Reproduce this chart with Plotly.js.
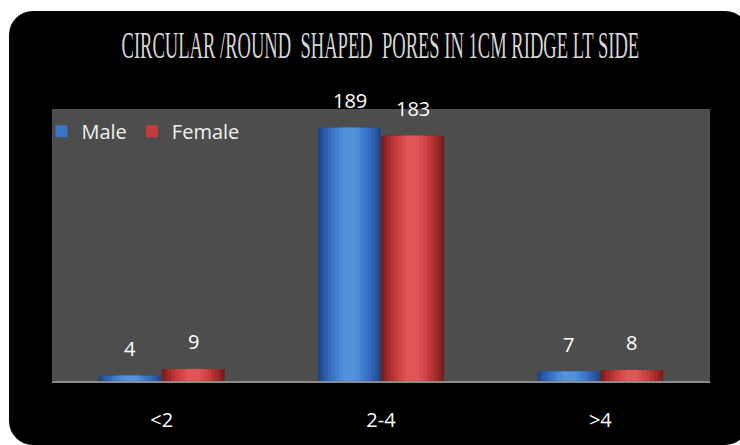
<!DOCTYPE html>
<html>
<head>
<meta charset="utf-8">
<script src="https://cdn.plot.ly/plotly-3.0.1.min.js"></script>
<style>
  html, body { margin: 0; padding: 0; background: #ffffff; width: 740px; height: 445px; overflow: hidden; }
  #frame { position: absolute; left: 9px; top: 11px; width: 740px; height: 434px; background: #000000; border-radius: 24px; }
  #chart { position: absolute; left: 0; top: 0; width: 740px; height: 445px; }
</style>
</head>
<body>
<div id="frame"></div>
<div id="chart"></div>
<script>
// ---- data ----
const categories = ["<2", "2-4", ">4"];
const maleValues = [4, 189, 7];
const femaleValues = [9, 183, 8];
const seriesNames = ["Male", "Female"];
const chartTitle = "CIRCULAR /ROUND  SHAPED  PORES IN 1CM RIDGE LT SIDE";

// ---- styling ----
const barW = 0.287;
const seriesData = [maleValues, femaleValues];
const seriesOffsets = [-barW, 0];
// layered shades: [width fraction, color]
const shades = [
  [["1.00", "#1f4680"], ["0.92", "#25519a"], ["0.82", "#2c5eab"], ["0.70", "#336abb"], ["0.58", "#3a75c7"], ["0.46", "#4280d0"], ["0.34", "#4a89d7"], ["0.22", "#5391db"]],
  [["1.00", "#761d1d"], ["0.92", "#8c2424"], ["0.82", "#a02b2b"], ["0.70", "#b43333"], ["0.58", "#c43b3b"], ["0.46", "#d14444"], ["0.34", "#da4c4c"], ["0.22", "#e05555"]]
];
const hiCenter = 0.5;
const legendLayer = 4;

const traces = [];
seriesData.forEach((vals, s) => {
  shades[s].forEach((sh, k) => {
    const f = parseFloat(sh[0]);
    traces.push({
      type: "bar",
      x: categories,
      y: vals,
      name: seriesNames[s],
      legendgroup: seriesNames[s],
      showlegend: k === legendLayer,
      width: barW * f,
      offset: seriesOffsets[s] + (k === 0 ? 0 : barW * (hiCenter - f / 2)),
      marker: { color: sh[1], line: { width: 0 } },
      hoverinfo: "skip"
    });
  });
});

const annotations = [];
seriesData.forEach((vals, s) => {
  vals.forEach((v, i) => {
    annotations.push({
      x: categories[i], y: v, xref: "x", yref: "y",
      text: String(v), showarrow: false,
      xshift: (s === 0 ? -1 : 1) * 31.5,
      yanchor: "bottom", yshift: 12,
      font: { family: "Open Sans, sans-serif", size: 20, color: "#ffffff" }
    });
  });
});

const layout = {
  width: 740, height: 445,
  paper_bgcolor: "rgba(0,0,0,0)",
  plot_bgcolor: "#4d4d4d",
  margin: { l: 52, r: 30, t: 109, b: 64 },
  barmode: "overlay",
  title: {
    text: chartTitle,
    font: { family: "Liberation Serif, serif", size: 38, color: "#d6d6d6" },
    x: 0.514, xanchor: "center", xref: "container",
    y: 1 - 45 / 445, yanchor: "middle", yref: "container"
  },
  xaxis: {
    type: "category",
    range: [-0.5, 2.5],
    showgrid: false, zeroline: false,
    showline: true, linecolor: "#8a8a8a", linewidth: 2,
    ticks: "", ticklabelstandoff: 20,
    tickfont: { family: "Open Sans, sans-serif", size: 20, color: "#ffffff" },
    fixedrange: true
  },
  yaxis: {
    range: [0, 203],
    showgrid: false, zeroline: false, showline: false,
    showticklabels: false, ticks: "", fixedrange: true
  },
  legend: {
    orientation: "h",
    x: -0.016, xanchor: "left", y: 0.99, yanchor: "top",
    bgcolor: "rgba(0,0,0,0)",
    font: { family: "Open Sans, sans-serif", size: 20, color: "#f0f0f0" },
    itemwidth: 30, traceorder: "normal"
  },
  annotations: annotations,
  showlegend: true
};

function squeezeTitle() {
  const t = document.querySelector("#chart .gtitle");
  if (t && t.getComputedTextLength) {
    const w = t.getComputedTextLength();
    const cx = parseFloat(t.getAttribute("x")) || 380;
    const sx = 518 / w;
    t.setAttribute("transform", "translate(" + cx + ",0) scale(" + sx + ",1) translate(" + (-cx) + ",0)");
  }
}

Plotly.newPlot("chart", traces, layout, { staticPlot: true, displayModeBar: false }).then(squeezeTitle);
</script>
</body>
</html>
